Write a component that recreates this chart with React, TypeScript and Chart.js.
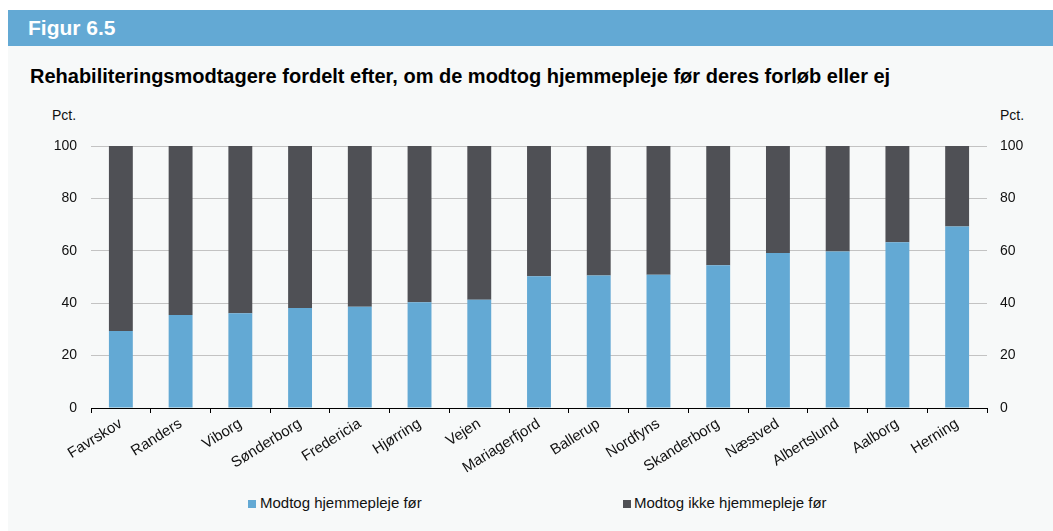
import React, { useEffect, useRef } from "react";
import { Chart, registerables } from "chart.js";

Chart.register(...registerables);

const categories = [
  "Favrskov", "Randers", "Viborg", "Sønderborg", "Fredericia", "Hjørring", "Vejen",
  "Mariagerfjord", "Ballerup", "Nordfyns", "Skanderborg", "Næstved", "Albertslund", "Aalborg", "Herning",
];
const modtogFoer = [29.4, 35.5, 36.2, 38.2, 38.6, 40.4, 41.3, 50.3, 50.6, 50.9, 54.5, 59.2, 59.7, 63.3, 69.3];
const modtogIkkeFoer = [70.6, 64.5, 63.8, 61.8, 61.4, 59.6, 58.7, 49.7, 49.4, 49.1, 45.5, 40.8, 40.3, 36.7, 30.7];
const seriesNames = ["Modtog hjemmepleje før", "Modtog ikke hjemmepleje før"];
const seriesColors = ["#63a9d4", "#4f5055"];
const yTicks = [0, 20, 40, 60, 80, 100];

const FONT = "Arial, 'Liberation Sans', Helvetica, sans-serif";

export default function App() {
  const ref = useRef<HTMLCanvasElement | null>(null);

  useEffect(() => {
    if (!ref.current) return;
    const chart = new Chart(ref.current, {
      type: "bar",
      data: {
        labels: categories,
        datasets: [
          { label: seriesNames[0], data: modtogFoer, backgroundColor: seriesColors[0], barPercentage: 0.5, categoryPercentage: 0.8 },
          { label: seriesNames[1], data: modtogIkkeFoer, backgroundColor: seriesColors[1], barPercentage: 0.5, categoryPercentage: 0.8 },
        ],
      },
      options: {
        animation: false,
        responsive: false,
        maintainAspectRatio: false,
        layout: { padding: { top: 46, left: 0, right: 0, bottom: 0 } },
        plugins: { legend: { display: false }, tooltip: { enabled: false }, title: { display: false } },
        scales: {
          x: {
            stacked: true,
            grid: { display: true, drawOnChartArea: false, drawTicks: true, tickLength: 5, color: "#000000", offset: true },
            border: { display: true, color: "#000000", width: 1 },
            ticks: {
              autoSkip: false,
              minRotation: 32,
              maxRotation: 32,
              color: "#111111",
              font: { family: FONT, size: 15 },
              padding: 2,
            },
            afterFit: (s: any) => { s.height = 72; },
          },
          y: {
            stacked: true,
            position: "left",
            min: 0,
            max: 100,
            afterBuildTicks: (s: any) => { s.ticks = yTicks.map((v) => ({ value: v })); },
            grid: { color: "#c3c3c3", drawTicks: false, lineWidth: 1 },
            border: { display: false },
            ticks: { color: "#111111", font: { family: FONT, size: 14 }, padding: 14 },
            afterFit: (s: any) => { s.width = 83; },
          },
          y2: {
            stacked: true,
            position: "right",
            min: 0,
            max: 100,
            afterBuildTicks: (s: any) => { s.ticks = yTicks.map((v) => ({ value: v })); },
            grid: { display: false, drawTicks: false },
            border: { display: false },
            ticks: { color: "#111111", font: { family: FONT, size: 14 }, padding: 13 },
            afterFit: (s: any) => { s.width = 66; },
          },
        },
      },
    });
    return () => chart.destroy();
  }, []);

  const legendText: React.CSSProperties = {
    position: "absolute",
    top: 484,
    fontFamily: FONT,
    fontSize: 15,
    lineHeight: "18px",
    color: "#111111",
    whiteSpace: "nowrap",
  };

  return (
    <div style={{ position: "absolute", left: 8, top: 10, width: 1045, height: 521, background: "#f7f9f9", overflow: "hidden" }}>
      <div style={{ position: "absolute", left: 0, top: 0, width: 1045, height: 36, background: "#63a9d4" }}>
        <div style={{ position: "absolute", left: 20, top: 5, color: "#ffffff", fontFamily: FONT, fontWeight: "bold", fontSize: 21, lineHeight: "26px" }}>
          Figur 6.5
        </div>
      </div>
      <div style={{ position: "absolute", left: 22, top: 54, color: "#000000", fontFamily: FONT, fontWeight: "bold", fontSize: 20, lineHeight: "24px", whiteSpace: "nowrap" }}>
        Rehabiliteringsmodtagere fordelt efter, om de modtog hjemmepleje før deres forløb eller ej
      </div>
      <div style={{ position: "absolute", left: 44, top: 97, fontFamily: FONT, fontSize: 14, color: "#111111" }}>Pct.</div>
      <div style={{ position: "absolute", left: 992, top: 97, fontFamily: FONT, fontSize: 14, color: "#111111" }}>Pct.</div>
      <canvas ref={ref} width={1045} height={380} style={{ position: "absolute", left: 0, top: 90, width: 1045, height: 380 }} />
      <div style={{ position: "absolute", left: 240, top: 490, width: 8, height: 8, background: seriesColors[0] }} />
      <div style={{ ...legendText, left: 252 }}>{seriesNames[0]}</div>
      <div style={{ position: "absolute", left: 615, top: 490, width: 8, height: 8, background: seriesColors[1] }} />
      <div style={{ ...legendText, left: 626 }}>{seriesNames[1]}</div>
    </div>
  );
}
